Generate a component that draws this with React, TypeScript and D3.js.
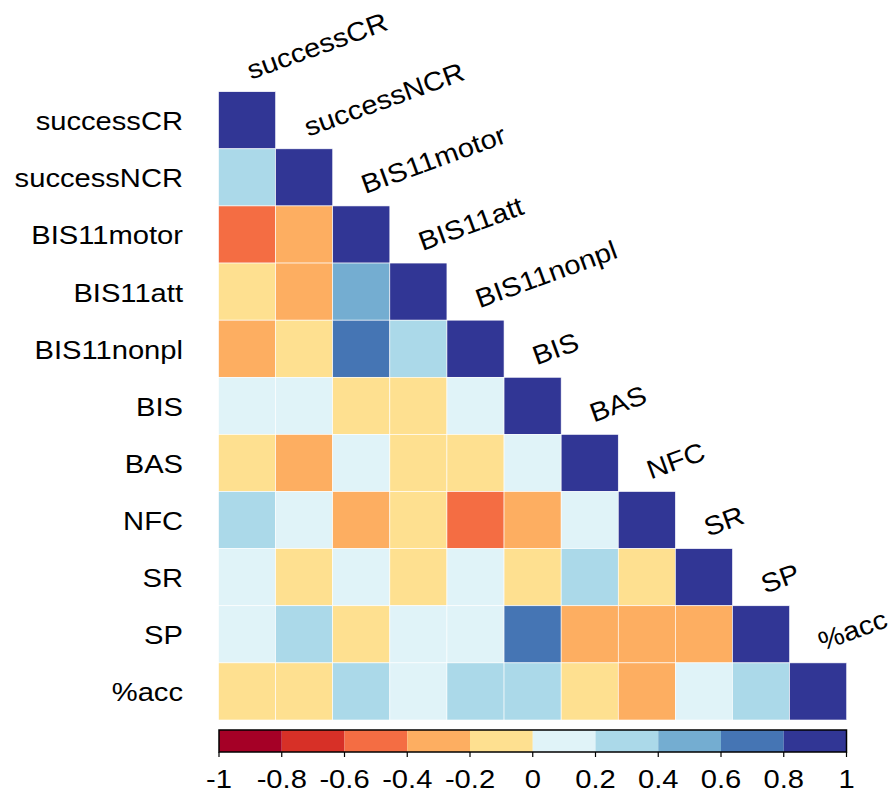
import React from "react";
import * as d3 from "d3";

const variables = ["successCR", "successNCR", "BIS11motor", "BIS11att", "BIS11nonpl", "BIS", "BAS", "NFC", "SR", "SP", "%acc"];

// lower-triangle correlations, row i has i+1 values (last = diagonal)
const corrRows: number[][] = [
  [1],
  [0.3, 1],
  [-0.5, -0.3, 1],
  [-0.1, -0.3, 0.5, 1],
  [-0.3, -0.1, 0.7, 0.3, 1],
  [0.1, 0.1, -0.1, -0.1, 0.1, 1],
  [-0.1, -0.3, 0.1, -0.1, -0.1, 0.1, 1],
  [0.3, 0.1, -0.3, -0.1, -0.5, -0.3, 0.1, 1],
  [0.1, -0.1, 0.1, -0.1, 0.1, -0.1, 0.3, -0.1, 1],
  [0.1, 0.3, -0.1, 0.1, 0.1, 0.7, -0.3, -0.3, -0.3, 1],
  [-0.1, -0.1, 0.3, 0.1, 0.3, 0.3, -0.1, -0.3, 0.1, 0.3, 1],
];

const binEdges = [-0.8, -0.6, -0.4, -0.2, 0, 0.2, 0.4, 0.6, 0.8];
const palette = ["#A50026", "#D73027", "#F46D43", "#FDAE61", "#FEE090", "#E0F3F8", "#ABD9E9", "#74ADD1", "#4575B4", "#313695"];
const legendTicks = [-1, -0.8, -0.6, -0.4, -0.2, 0, 0.2, 0.4, 0.6, 0.8, 1];

export default function App() {
  const W = 894, H = 795;
  const x = d3.scaleBand<string>().domain(variables).range([218.5, 846.7]);
  const y = d3.scaleBand<string>().domain(variables).range([91.7, 720]);
  const color = d3.scaleThreshold<number, string>().domain(binEdges).range(palette);
  const lx = d3.scaleLinear().domain([-1, 1]).range([219, 846.5]);
  const legTop = 730, legBot = 752;
  const bins = d3.range(palette.length).map((i) => [legendTicks[i], legendTicks[i + 1]]);
  const font = "'Liberation Sans', Arial, sans-serif";
  const fs = 26.5;
  const sx = 1.1;

  const cells: { r: string; c: string; v: number }[] = [];
  corrRows.forEach((row, i) => row.forEach((v, j) => cells.push({ r: variables[i], c: variables[j], v })));

  return (
    <svg width={W} height={H} style={{ position: "absolute", left: 0, top: 0, background: "#fff" }} fontFamily={font}>
      {cells.map((d, k) => (
        <rect key={k} x={x(d.c)} y={y(d.r)} width={x.bandwidth()} height={y.bandwidth()} fill={color(d.v)} stroke="#fff" strokeWidth={0.6} />
      ))}
      {variables.map((v) => (
        <text key={"r" + v} transform={`translate(183, ${(y(v) as number) + y.bandwidth() / 2 + 10}) scale(${sx}, 1)`} textAnchor="end" fontSize={fs} fill="#000">{v}</text>
      ))}
      {variables.map((v) => {
        const tx = (x(v) as number) + x.bandwidth() / 2 + 4;
        const ty = (y(v) as number) - 12;
        return (
          <text key={"c" + v} transform={`translate(${tx}, ${ty}) rotate(-20) scale(${sx}, 1)`} textAnchor="start" fontSize={fs} fill="#000">{v}</text>
        );
      })}
      {bins.map((b, i) => (
        <rect key={"b" + i} x={lx(b[0])} y={legTop} width={lx(b[1]) - lx(b[0])} height={legBot - legTop} fill={palette[i]} />
      ))}
      <rect x={lx(-1)} y={legTop} width={lx(1) - lx(-1)} height={legBot - legTop} fill="none" stroke="#000" strokeWidth={1.5} />
      {legendTicks.map((t) => (
        <g key={"t" + t}>
          <line x1={lx(t)} x2={lx(t)} y1={legBot} y2={legBot + 5} stroke="#000" strokeWidth={1.2} />
          <text transform={`translate(${lx(t)}, 788) scale(${sx}, 1)`} textAnchor="middle" fontSize={fs} fill="#000">{String(t)}</text>
        </g>
      ))}
    </svg>
  );
}
